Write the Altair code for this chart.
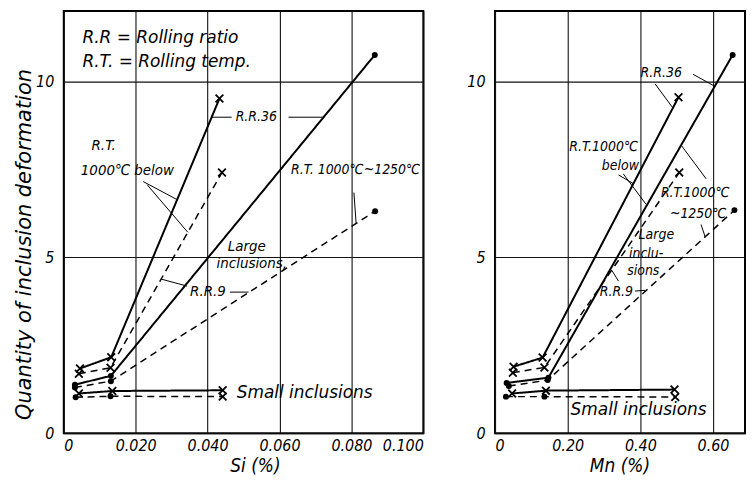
import altair as alt
import pandas as pd

FONT = "DejaVu Sans Condensed, DejaVu Sans, sans-serif"
WIDE = "DejaVu Sans, sans-serif"

# ---- data ----
series_names = ["RR36 RT<1000", "RR9 RT<1000", "RR36 RT1000-1250",
                "RR9 RT1000-1250", "Small RR36", "Small RR9"]
series_dash = ["solid", "dashed", "solid", "dashed", "solid", "dashed"]
series_marker = [["x", "x", "x"], ["x", "x", "x"], ["dot", "dot", "dot"],
                 ["dot", "dot", "dot"], ["x", "x", "x"], ["dot", "dot", "x"]]

si_x = [[0.0045, 0.0132, 0.0433],
        [0.0042, 0.0130, 0.0440],
        [0.0031, 0.0131, 0.0865],
        [0.0031, 0.0131, 0.0866],
        [0.0042, 0.0135, 0.0442],
        [0.0033, 0.0130, 0.0442]]
si_y = [[1.84, 2.16, 9.51],
        [1.69, 1.86, 7.41],
        [1.38, 1.63, 10.75],
        [1.30, 1.48, 6.31],
        [1.13, 1.20, 1.22],
        [1.02, 1.05, 1.04]]

mn_x = [[0.051, 0.131, 0.505],
        [0.049, 0.136, 0.507],
        [0.032, 0.147, 0.654],
        [0.038, 0.145, 0.659],
        [0.047, 0.140, 0.494],
        [0.030, 0.136, 0.496]]
mn_y = [[1.89, 2.15, 9.55],
        [1.72, 1.87, 7.41],
        [1.43, 1.58, 10.75],
        [1.34, 1.51, 6.34],
        [1.13, 1.21, 1.24],
        [1.04, 1.04, 1.03]]

si_ticks = [0, 0.02, 0.04, 0.06, 0.08, 0.1]
mn_ticks = [0, 0.2, 0.4, 0.6]
y_ticks = [0, 5, 10]

# annotations: (text, x, y)
si_text_big = [("R.R = Rolling ratio", 0.0052, 11.24),
               ("R.T. = Rolling temp.", 0.0052, 10.54),
               ("Small inclusions", 0.0481, 1.13)]
si_text_left = [("R.R.36", 0.0478, 8.98),
                ("R.T. 1000℃~1250℃", 0.0632, 7.49)]
si_text_center = [("R.T.", 0.0111, 8.19),
                  ("1000℃ below", 0.0177, 7.49),
                  ("Large", 0.0509, 5.31),
                  ("inclusions,", 0.0523, 4.83),
                  ("R.R.9", 0.0401, 4.04)]
# leader lines: (x, y, x2, y2)
si_leaders = [(0.0467, 8.98, 0.0412, 8.98),
              (0.0625, 8.98, 0.0723, 8.98),
              (0.0221, 7.15, 0.0315, 6.64),
              (0.0232, 7.06, 0.0345, 5.71),
              (0.0807, 6.84, 0.0813, 5.98),
              (0.0343, 4.18, 0.0271, 4.38),
              (0.0462, 4.01, 0.0514, 4.01)]

mn_text_big = [("Small inclusions", 0.208, 0.65)]
mn_text_left = []
mn_text_center = [("R.R.36", 0.4575, 10.25),
                  ("R.T.1000℃", 0.299, 8.14),
                  ("below", 0.345, 7.58),
                  ("R.T.1000℃", 0.551, 6.84),
                  ("~1250℃", 0.559, 6.22),
                  ("Large", 0.444, 5.62),
                  ("inclu-", 0.416, 5.09),
                  ("sions", 0.408, 4.60),
                  ("R.R.9", 0.334, 4.00)]
mn_leaders = [(0.441, 9.92, 0.489, 9.25),
              (0.545, 10.20, 0.603, 9.87),
              (0.353, 7.37, 0.416, 6.50),
              (0.340, 7.34, 0.381, 7.09),
              (0.581, 7.23, 0.512, 8.19),
              (0.567, 5.93, 0.578, 5.59),
              (0.340, 4.32, 0.322, 4.62),
              (0.385, 4.04, 0.413, 4.06)]


def build_df(xs, ys):
    rows = []
    for name, dash, marks, sx, sy in zip(series_names, series_dash, series_marker, xs, ys):
        for m, xv, yv in zip(marks, sx, sy):
            rows.append({"series": name, "dash": dash, "marker": m, "x": xv, "y": yv})
    return pd.DataFrame(rows)


X_PATH = "M -1 -1 L 1 1 M -1 1 L 1 -1"


def text_layer(rows, align, font, size):
    tdf = pd.DataFrame(rows, columns=["label", "x", "y"])
    return alt.Chart(tdf).mark_text(align=align, baseline="middle", font=font,
                                    fontStyle="italic", fontSize=size, color="black").encode(
        x="x:Q", y="y:Q", text="label:N")


def panel(xs, ys, text_big, text_left, text_center, leaders, xdom, xticks, fmt, xtitle,
          ytitle, width, title_x, center_size, left_size):
    df = build_df(xs, ys)
    xaxis = alt.Axis(values=xticks, labelExpr=fmt, title=xtitle, titleX=title_x,
                     labelPadding=4, titlePadding=3)
    yargs = dict(values=y_ticks, labelPadding=10)
    if ytitle:
        yaxis = alt.Axis(title=ytitle, titleFont=WIDE, titleFontSize=21, titlePadding=1,
                         titleY=234, **yargs)
    else:
        yaxis = alt.Axis(title=None, **yargs)
    xenc = alt.X("x:Q", scale=alt.Scale(domain=xdom, nice=False, zero=False), axis=xaxis)
    yenc = alt.Y("y:Q", scale=alt.Scale(domain=[0, 12], nice=False), axis=yaxis)

    base = alt.Chart(df)
    lines = base.mark_line(color="black").encode(
        x=xenc, y=yenc, detail="series:N",
        strokeDash=alt.StrokeDash("dash:N", scale=alt.Scale(domain=["solid", "dashed"],
                                  range=[[1, 0], [7, 5]]), legend=None),
        strokeWidth=alt.StrokeWidth("dash:N", scale=alt.Scale(domain=["solid", "dashed"],
                                    range=[2.0, 1.5]), legend=None),
    )
    xmarks = base.transform_filter(alt.datum.marker == "x").mark_point(
        shape=X_PATH, filled=False, stroke="black", strokeWidth=1.8, size=60, opacity=1
    ).encode(x="x:Q", y="y:Q")
    dots = base.transform_filter(alt.datum.marker == "dot").mark_circle(
        size=36, color="black", opacity=1
    ).encode(x="x:Q", y="y:Q")

    ldf = pd.DataFrame(leaders, columns=["x", "y", "x2", "y2"])
    lead = alt.Chart(ldf).mark_rule(color="black", strokeWidth=1).encode(
        x="x:Q", y="y:Q", x2="x2:Q", y2="y2:Q")

    layers = [lines, lead, xmarks, dots,
              text_layer(text_big, "left", WIDE, 17),
              text_layer(text_center, "center", FONT, center_size)]
    if text_left:
        layers.append(text_layer(text_left, "left", FONT, left_size))
    return alt.layer(*layers).properties(width=width, height=424)


left = panel(si_x, si_y, si_text_big, si_text_left, si_text_center, si_leaders, [0, 0.1],
             si_ticks, "datum.value == 0 ? '0' : format(datum.value, '.3f')", "Si  (%)",
             "Quantity of inclusion deformation", 361, 192, 15, 14)
right = panel(mn_x, mn_y, mn_text_big, mn_text_left, mn_text_center, mn_leaders,
              [0, 0.688], mn_ticks,
              "datum.value == 0 ? '0' : format(datum.value, '.2f')", "Mn  (%)",
              "", 251, 125, 14, 14)

chart = alt.hconcat(left, right, spacing=72, bounds="flush").properties(
    padding={"left": 4, "top": 1, "right": 0, "bottom": 0},
    background="white",
).configure_view(stroke="black", strokeWidth=2).configure_axis(
    labelFont=FONT, labelFontStyle="italic", labelFontSize=16, labelColor="black",
    titleFont=FONT, titleFontStyle="italic", titleFontWeight="normal", titleFontSize=19,
    titleColor="black", grid=True, gridColor="#111", gridWidth=1.1, domain=False,
    ticks=False,
)

chart.save("out.html", embed_options={"renderer": "svg", "actions": False})
